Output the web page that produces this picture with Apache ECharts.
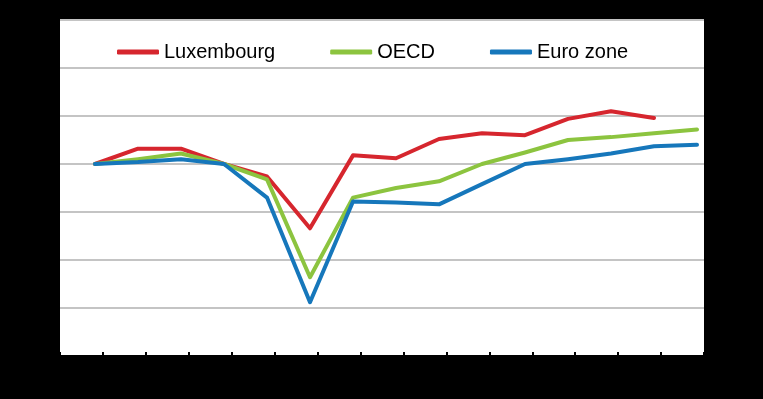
<!DOCTYPE html>
<html>
<head>
<meta charset="utf-8">
<script src="https://cdn.jsdelivr.net/npm/echarts@6/dist/echarts.min.js"></script>
<style>
html,body{margin:0;padding:0;background:#000;}
#chart{width:763px;height:399px;}
</style>
</head>
<body>
<div id="chart"></div>
<script>
const quarters = ['2019Q1','2019Q2','2019Q3','2019Q4','2020Q1','2020Q2','2020Q3','2020Q4','2021Q1','2021Q2','2021Q3','2021Q4','2022Q1','2022Q2','2022Q3'];
const luxembourg = [100, 101.6, 101.6, 100, 98.7, 93.3, 100.9, 100.6, 102.6, 103.2, 103.0, 104.7, 105.5, 104.8, null];
const oecd = [100, 100.5, 101.1, 100, 98.4, 88.2, 96.5, 97.5, 98.2, 100.0, 101.2, 102.5, 102.8, 103.2, 103.6];
const euroZone = [100, 100.2, 100.5, 100, 96.5, 85.6, 96.1, 96.0, 95.8, 97.9, 100.0, 100.5, 101.1, 101.85, 102.0];
const seriesNames = ['Luxembourg', 'OECD', 'Euro zone'];
const seriesColors = ['#D6262E', '#8CC43F', '#1677BB'];

const chart = echarts.init(document.getElementById('chart'), null, {renderer: 'canvas'});
const yCommon = {type: 'value', min: 80, max: 115, interval: 5};
const mk = (name, data, color) => ({
  name, type: 'line', xAxisIndex: 1, yAxisIndex: 1, data,
  symbol: 'none', smooth: false, connectNulls: false,
  lineStyle: {color, width: 4, cap: 'round', join: 'round'},
  itemStyle: {color},
  z: 3
});
chart.setOption({
  backgroundColor: '#000',
  animation: false,
  legend: {
    data: seriesNames,
    left: 112, top: 37,
    icon: 'roundRect',
    itemWidth: 42, itemHeight: 5, itemGap: 55,
    textStyle: {fontFamily: "'Liberation Sans', Arial, sans-serif", fontSize: 20, color: '#000'}
  },
  grid: [
    {left: 60, right: 59, top: 20, bottom: 43, show: true, backgroundColor: '#fff', borderWidth: 0},
    {left: 95, right: 66, top: 20, bottom: 43}
  ],
  xAxis: [
    {gridIndex: 0, type: 'category', data: quarters, boundaryGap: true,
     axisLine: {show: true, lineStyle: {color: '#000', width: 2}},
     axisTick: {show: true, inside: true, length: 4, interval: 0, lineStyle: {color: '#000', width: 2}},
     axisLabel: {show: false, interval: 0}, splitLine: {show: false}},
    {gridIndex: 1, type: 'category', data: quarters, boundaryGap: false, show: false}
  ],
  yAxis: [
    Object.assign({gridIndex: 0, axisLine: {show: false}, axisTick: {show: false}, axisLabel: {show: false},
      splitLine: {show: true, lineStyle: {color: '#c4c4c4', width: 2}}}, yCommon),
    Object.assign({gridIndex: 1, show: false, splitLine: {show: false}}, yCommon)
  ],
  series: [
    mk(seriesNames[0], luxembourg, seriesColors[0]),
    mk(seriesNames[1], oecd, seriesColors[1]),
    mk(seriesNames[2], euroZone, seriesColors[2])
  ]
});
</script>
</body>
</html>
